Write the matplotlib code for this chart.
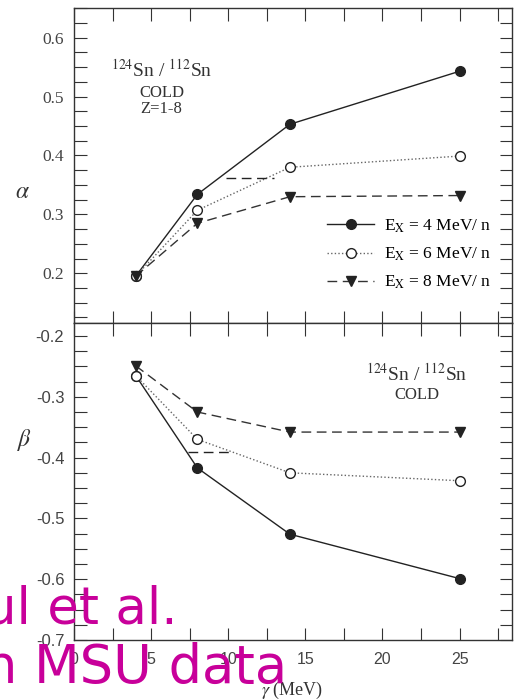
import matplotlib
matplotlib.use("Agg")
import matplotlib.pyplot as plt
from matplotlib.ticker import MultipleLocator

plt.rcParams.update({
    "font.family": ["Liberation Serif", "DejaVu Serif"],
    "mathtext.fontset": "stix",
    "axes.linewidth": 1.0,
    "axes.edgecolor": "#333333",
})

# data
energy = [4, 8, 14, 25]
alpha_4 = [0.195, 0.334, 0.453, 0.543]
alpha_6 = [0.195, 0.307, 0.380, 0.399]
alpha_8 = [0.195, 0.285, 0.330, 0.332]
beta_4 = [-0.265, -0.417, -0.526, -0.599]
beta_6 = [-0.265, -0.370, -0.425, -0.438]
beta_8 = [-0.249, -0.325, -0.358, -0.358]
labels = [r"E$_\mathrm{X}$ = 4 MeV/ n", r"E$_\mathrm{X}$ = 6 MeV/ n", r"E$_\mathrm{X}$ = 8 MeV/ n"]
stray_top_x, stray_top_y = [9.85, 12.95], [0.362, 0.362]
stray_bot_x, stray_bot_y = [7.4, 10.05], [-0.39, -0.39]

W, H = 514, 699
fig = plt.figure(figsize=(W / 100, H / 100), dpi=100)
left, right = 74 / W, 512 / W
ax1 = fig.add_axes([left, 1 - 323 / H, right - left, 315 / H])
ax2 = fig.add_axes([left, 1 - 640 / H, right - left, 317 / H])

ink = "#222222"
styles = [
    dict(color=ink, ls="-", lw=1.0, marker="o", ms=7, mfc=ink, mec=ink),
    dict(color="#666666", ls=(0, (1, 1.6)), lw=1.0, marker="o", ms=7, mfc="white", mec=ink, mew=1.0),
    dict(color="#333333", ls=(0, (7, 4)), lw=1.0, marker="v", ms=7, mfc=ink, mec=ink),
]

for ax, series in ((ax1, (alpha_4, alpha_6, alpha_8)), (ax2, (beta_4, beta_6, beta_8))):
    for vals, st, lab in zip(series, styles, labels):
        ax.plot(energy, vals, label=lab, **st)
    ax.set_xlim(0, 28.4)
    ax.xaxis.set_major_locator(MultipleLocator(5))
    ax.xaxis.set_minor_locator(MultipleLocator(2.5))
    ax.yaxis.set_major_locator(MultipleLocator(0.1))
    ax.yaxis.set_minor_locator(MultipleLocator(0.025))
    ax.tick_params(which="both", direction="in", top=True, right=True, length=9, width=0.8,
                   color="#333333", labelcolor="#444444", pad=7)

ax1.plot(stray_top_x, stray_top_y, color=ink, ls=(0, (7, 4)), lw=1.0)
ax2.plot(stray_bot_x, stray_bot_y, color=ink, ls=(0, (7, 4)), lw=1.0)

ax1.set_ylim(0.1156, 0.6504)
ax2.set_ylim(-0.7, -0.1786)
ax1.tick_params(labelbottom=False, labelsize=12.5)
ax2.tick_params(axis="y", labelsize=12)
ax2.tick_params(axis="x", labelsize=11.5, pad=9)
ax1.set_yticks([0.2, 0.3, 0.4, 0.5, 0.6])
ax1.set_yticklabels(["0.2", "0.3", "0.4", "0.5", "0.6"])
ax2.set_yticks([-0.7, -0.6, -0.5, -0.4, -0.3, -0.2])
ax2.set_yticklabels(["-0.7", "-0.6", "-0.5", "-0.4", "-0.3", "-0.2"], family="Liberation Sans")
ax2.set_xticks([0, 5, 10, 15, 20, 25])
ax2.set_xticklabels(["0", "5", "10", "15", "20", "25"], family="Liberation Sans")

ax1.legend(loc="upper left", bbox_to_anchor=(0.578, 0.335), frameon=False, fontsize=12.5,
           handlelength=2.7, handletextpad=0.55, labelspacing=0.62, borderpad=0, borderaxespad=0)

txt = "#333333"
ax1.text(0.2, 0.803, r"$^{124}$Sn / $^{112}$Sn", transform=ax1.transAxes, ha="center", va="center", fontsize=14, color=txt)
ax1.text(0.2, 0.731, "COLD", transform=ax1.transAxes, ha="center", va="center", fontsize=12, color=txt)
ax1.text(0.2, 0.68, "Z=1-8", transform=ax1.transAxes, ha="center", va="center", fontsize=12, color=txt)
ax2.text(0.783, 0.842, r"$^{124}$Sn / $^{112}$Sn", transform=ax2.transAxes, ha="center", va="center", fontsize=14, color=txt)
ax2.text(0.783, 0.773, "COLD", transform=ax2.transAxes, ha="center", va="center", fontsize=12, color=txt)

fig.text(22 / W, 1 - 192 / H, r"$\alpha$", ha="center", va="center", fontsize=17, color=txt)
fig.text(25 / W, 1 - 440 / H, r"$\beta$", ha="center", va="center", fontsize=17, color=txt)
fig.text(292 / W, 1 - 690 / H, r"$\gamma$ (MeV)", ha="center", va="center", fontsize=13, color=txt)

magenta = "#c8009a"
fig.text(177 / W, 1 - 623 / H, "ul et al.", ha="right", va="baseline", fontsize=37,
         color=magenta, family="DejaVu Sans")
fig.text(287 / W, 1 - 683 / H, "n MSU data", ha="right", va="baseline", fontsize=38,
         color=magenta, family="DejaVu Sans")

fig.savefig("out.png", dpi=100)
